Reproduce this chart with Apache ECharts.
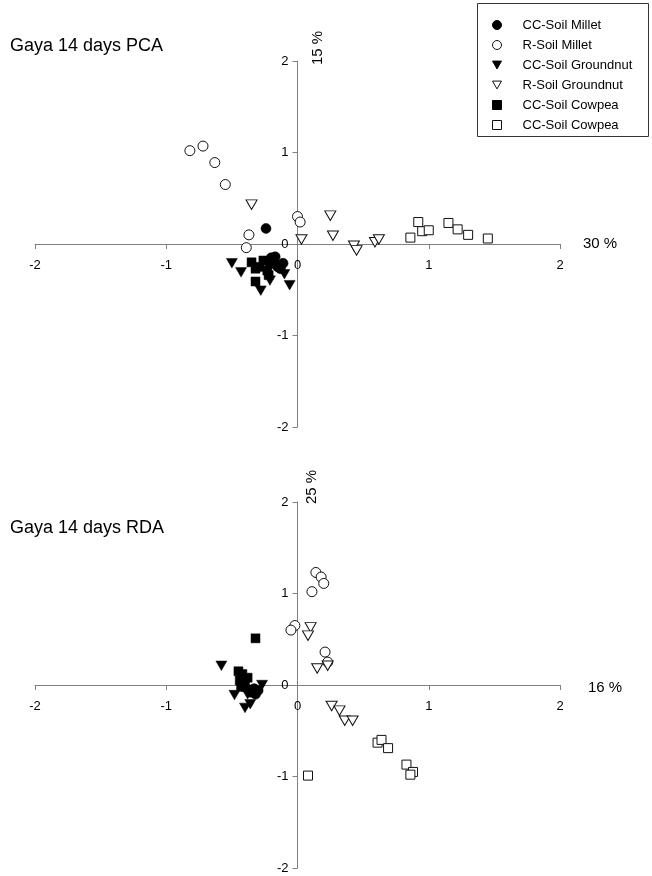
<!DOCTYPE html>
<html>
<head>
<meta charset="utf-8">
<script src="https://cdn.jsdelivr.net/npm/echarts@6/dist/echarts.min.js"></script>
<style>
  html, body { margin: 0; padding: 0; background: #fff; }
  #chart { width: 652px; height: 876px; }
</style>
</head>
<body>
<div id="chart"></div>
<script>
// Group keys and the legend text shown for each group
const groupKeys = ['ccMillet', 'rMillet', 'ccGroundnut', 'rGroundnut', 'ccCowpea', 'rCowpea'];
const legendLabels = ['CC-Soil Millet', 'R-Soil Millet', 'CC-Soil Groundnut', 'R-Soil Groundnut', 'CC-Soil Cowpea', 'CC-Soil Cowpea'];
const axisTicks = [-2, -1, 0, 1, 2];

// PCA scores (axis 1 = 30 %, axis 2 = 15 %)
const pcaCCMillet = [[-0.24, 0.17], [-0.20, -0.15], [-0.17, -0.14], [-0.15, -0.25], [-0.21, -0.22], [-0.18, -0.18], [-0.11, -0.21], [-0.13, -0.27]];
const pcaRMillet = [[-0.82, 1.02], [-0.72, 1.07], [-0.63, 0.89], [-0.55, 0.65], [-0.37, 0.10], [-0.39, -0.04], [0.00, 0.30], [0.02, 0.24]];
const pcaCCGroundnut = [[-0.50, -0.21], [-0.43, -0.31], [-0.28, -0.51], [-0.10, -0.33], [-0.06, -0.45], [-0.21, -0.40]];
const pcaRGroundnut = [[-0.35, 0.43], [0.03, 0.05], [0.25, 0.31], [0.27, 0.09], [0.43, -0.02], [0.45, -0.07], [0.59, 0.02], [0.62, 0.05]];
const pcaCCCowpea = [[-0.35, -0.20], [-0.32, -0.41], [-0.22, -0.34], [-0.29, -0.25], [-0.26, -0.18], [-0.23, -0.29], [-0.32, -0.27]];
const pcaRCowpea = [[0.92, 0.24], [0.95, 0.14], [1.00, 0.15], [0.86, 0.07], [1.15, 0.23], [1.22, 0.16], [1.30, 0.10], [1.45, 0.06]];

// RDA scores (axis 1 = 16 %, axis 2 = 25 %)
const rdaCCMillet = [[-0.32, -0.10], [-0.30, -0.06], [-0.33, -0.04], [-0.36, -0.08], [-0.41, -0.02]];
const rdaRMillet = [[0.14, 1.23], [0.18, 1.18], [0.20, 1.11], [0.11, 1.02], [-0.02, 0.65], [-0.05, 0.60], [0.21, 0.36], [0.23, 0.25]];
const rdaCCGroundnut = [[-0.58, 0.21], [-0.40, -0.25], [-0.36, -0.21], [-0.27, 0.00], [-0.48, -0.11], [-0.38, -0.10]];
const rdaRGroundnut = [[0.10, 0.63], [0.08, 0.54], [0.15, 0.18], [0.23, 0.21], [0.26, -0.23], [0.32, -0.28], [0.36, -0.39], [0.42, -0.39]];
const rdaCCCowpea = [[-0.32, 0.51], [-0.45, 0.15], [-0.42, 0.12], [-0.44, 0.05], [-0.40, 0.03], [-0.38, 0.08], [-0.43, -0.02], [-0.35, -0.05]];
const rdaRCowpea = [[0.08, -0.99], [0.61, -0.63], [0.64, -0.60], [0.69, -0.69], [0.83, -0.87], [0.88, -0.95], [0.86, -0.98]];

const pcaData = [pcaCCMillet, pcaRMillet, pcaCCGroundnut, pcaRGroundnut, pcaCCCowpea, pcaRCowpea];
const rdaData = [rdaCCMillet, rdaRMillet, rdaCCGroundnut, rdaRGroundnut, rdaCCCowpea, rdaRCowpea];

const FONT = '"Liberation Sans", Arial, Helvetica, sans-serif';
const AXIS_GRAY = '#808080';
const triDown = 'path://M0,0L10,0L5,8.7Z';

// plot area size shared by both panels
const PLOT_W = 525;
const PLOT_H = 366;

// marker look per group: filled (black) vs open (white with black edge)
const markerStyles = [
  { symbol: 'circle', size: 10, filled: true },
  { symbol: 'circle', size: 10, filled: false },
  { symbol: triDown, size: [11, 9.5], filled: true },
  { symbol: triDown, size: [11, 9.5], filled: false },
  { symbol: 'rect', size: 9, filled: true },
  { symbol: 'rect', size: 9, filled: false }
];

function itemStyleFor(m) {
  return m.filled
    ? { color: '#000', borderColor: '#000', borderWidth: 0.5, opacity: 1 }
    : { color: '#fff', borderColor: '#111', borderWidth: 1, opacity: 1 };
}

// the axes cross at the origin: each axis is shifted inward to the zero of the other
function makeAxes(gridIndex) {
  const lo = axisTicks[0];
  const hi = axisTicks[axisTicks.length - 1];
  const zeroFrac = (0 - lo) / (hi - lo);
  const common = {
    gridIndex: gridIndex,
    type: 'value',
    min: lo,
    max: hi,
    interval: 1,
    axisLine: { show: true, onZero: false, lineStyle: { color: AXIS_GRAY, width: 1 } },
    axisTick: { show: true, length: 5, lineStyle: { color: AXIS_GRAY, width: 1 } },
    splitLine: { show: false },
    axisLabel: { color: '#000', fontSize: 13, fontFamily: FONT }
  };
  const x = JSON.parse(JSON.stringify(common));
  x.position = 'bottom';
  x.offset = -PLOT_H * zeroFrac;
  x.axisLabel.margin = 15;
  const y = JSON.parse(JSON.stringify(common));
  y.position = 'left';
  y.offset = -PLOT_W * zeroFrac;
  y.axisLabel.margin = 9;
  return { x: x, y: y };
}

const topAxes = makeAxes(0);
const bottomAxes = makeAxes(1);

const series = [];
[pcaData, rdaData].forEach(function (block, gi) {
  block.forEach(function (pts, k) {
    const m = markerStyles[k];
    series.push({
      name: groupKeys[k],
      type: 'scatter',
      xAxisIndex: gi,
      yAxisIndex: gi,
      symbol: m.symbol,
      symbolSize: m.size,
      itemStyle: itemStyleFor(m),
      emphasis: { disabled: true },
      data: pts
    });
  });
});

const chart = echarts.init(document.getElementById('chart'), null, { renderer: 'canvas' });
chart.setOption({
  animation: false,
  backgroundColor: '#fff',
  grid: [
    { left: 35, top: 61, width: PLOT_W, height: PLOT_H },
    { left: 35, top: 502, width: PLOT_W, height: PLOT_H }
  ],
  xAxis: [topAxes.x, bottomAxes.x],
  yAxis: [topAxes.y, bottomAxes.y],
  legend: {
    orient: 'vertical',
    left: 487,
    top: 11,
    itemWidth: 9,
    itemHeight: 9,
    itemGap: 2,
    selectedMode: false,
    data: groupKeys,
    itemStyle: { borderWidth: 1 },
    formatter: function (name) { return legendLabels[groupKeys.indexOf(name)]; },
    textStyle: { color: '#000', fontSize: 13, fontFamily: FONT, lineHeight: 18, padding: [0, 0, 0, 16] }
  },
  graphic: [
    { type: 'rect', shape: { x: 477.5, y: 3.5, width: 171, height: 133 }, style: { fill: 'none', stroke: '#333', lineWidth: 1 } },
    { type: 'text', x: 10, y: 46, style: { text: 'Gaya 14 days PCA', font: '18px ' + FONT, fill: '#000', textVerticalAlign: 'middle' } },
    { type: 'text', x: 10, y: 528, style: { text: 'Gaya 14 days RDA', font: '18px ' + FONT, fill: '#000', textVerticalAlign: 'middle' } },
    { type: 'text', x: 318, y: 48, rotation: Math.PI / 2, style: { text: '15 %', font: '15px ' + FONT, fill: '#000', textAlign: 'center', textVerticalAlign: 'middle' } },
    { type: 'text', x: 312, y: 487, rotation: Math.PI / 2, style: { text: '25 %', font: '15px ' + FONT, fill: '#000', textAlign: 'center', textVerticalAlign: 'middle' } },
    { type: 'text', x: 583, y: 244, style: { text: '30 %', font: '15px ' + FONT, fill: '#000', textVerticalAlign: 'middle' } },
    { type: 'text', x: 588, y: 688, style: { text: '16 %', font: '15px ' + FONT, fill: '#000', textVerticalAlign: 'middle' } }
  ],
  series: series
});
</script>
</body>
</html>
